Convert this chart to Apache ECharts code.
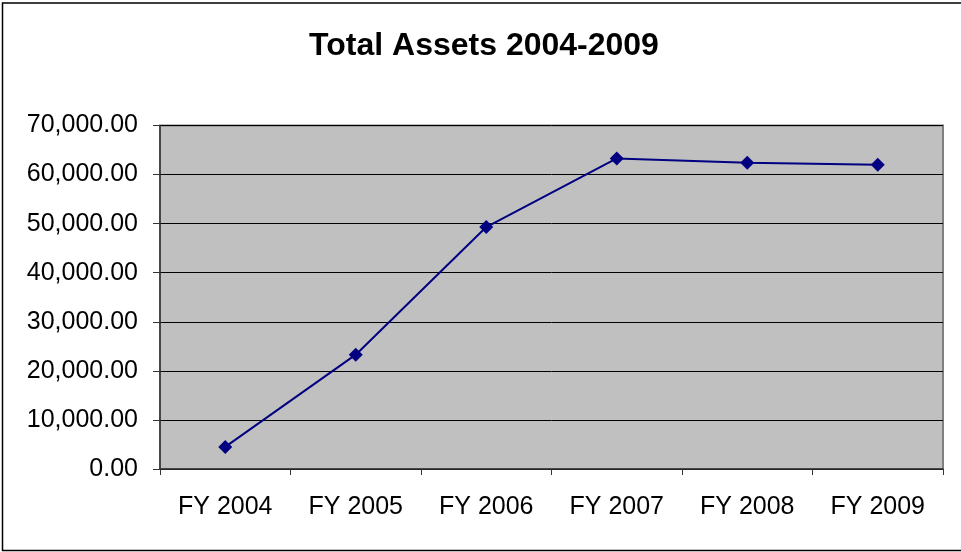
<!DOCTYPE html>
<html>
<head>
<meta charset="utf-8">
<script src="https://cdn.jsdelivr.net/npm/echarts@6/dist/echarts.min.js"></script>
<style>
  html, body { margin: 0; padding: 0; background: #fff; }
  #chart { width: 961px; height: 552px; }
</style>
</head>
<body>
<div id="chart"></div>
<script>
// data
var years = ['FY 2004', 'FY 2005', 'FY 2006', 'FY 2007', 'FY 2008', 'FY 2009'];
var totalAssets = [4500, 23300, 49300, 63300, 62400, 62000];
var chartTitle = 'Total Assets 2004-2009';

var chart = echarts.init(document.getElementById('chart'));

function fmt(v) {
    // 70000 -> 70,000.00
    var s = Math.round(v).toString().replace(/\B(?=(\d{3})+(?!\d))/g, ',');
    return s + '.00';
}

var option = {
    backgroundColor: '#fff',
    animation: false,
    title: {
        text: chartTitle,
        left: 479,
        textAlign: 'center',
        top: 25,
        textStyle: {
            fontFamily: 'Liberation Sans, Arial, sans-serif',
            fontWeight: 'bold',
            fontSize: 32,
            color: '#000'
        }
    },
    graphic: [
        {
            type: 'rect',
            shape: { x: 2.5, y: 3, width: 980, height: 547.5 },
            style: { fill: null, stroke: '#000', lineWidth: 1.5 },
            silent: true
        }
    ],
    grid: {
        left: 160,
        right: 18,
        top: 125.5,
        bottom: 83,
        show: true,
        backgroundColor: '#c0c0c0',
        borderColor: '#808080',
        borderWidth: 2
    },
    xAxis: {
        type: 'category',
        data: years,
        boundaryGap: true,
        axisLine: { show: true, lineStyle: { color: '#333', width: 1.5 } },
        axisTick: { show: true, inside: false, length: 6, lineStyle: { color: '#333' } },
        axisLabel: {
            margin: 26,
            fontFamily: 'Liberation Sans, Arial, sans-serif',
            fontSize: 25,
            color: '#000'
        },
        splitLine: { show: false }
    },
    yAxis: {
        type: 'value',
        min: 0,
        max: 70000,
        interval: 10000,
        axisLine: { show: true, lineStyle: { color: '#333', width: 1.5 } },
        axisTick: { show: true, inside: false, length: 7, lineStyle: { color: '#333' } },
        axisLabel: {
            margin: 22,
            fontFamily: 'Liberation Sans, Arial, sans-serif',
            fontSize: 25,
            color: '#000',
            formatter: fmt
        },
        splitLine: { show: true, lineStyle: { color: '#000', width: 1 } }
    },
    series: [
        {
            name: 'Total Assets',
            type: 'line',
            data: totalAssets,
            symbol: 'diamond',
            symbolSize: 14,
            showAllSymbol: true,
            lineStyle: { color: '#000080', width: 2 },
            itemStyle: { color: '#000080', borderWidth: 0 }
        }
    ]
};

chart.setOption(option);
</script>
</body>
</html>
